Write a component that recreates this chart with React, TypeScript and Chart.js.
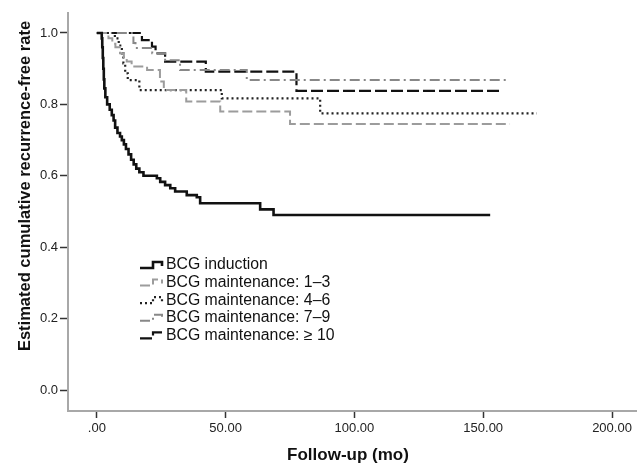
import React, { useEffect, useRef } from 'react';
import { Chart, registerables } from 'chart.js';

Chart.register(...registerables);

const seriesLabels = [
  'BCG induction',
  'BCG maintenance: 1–3',
  'BCG maintenance: 4–6',
  'BCG maintenance: 7–9',
  'BCG maintenance: ≥ 10',
];

const xAxisTitle = 'Follow-up (mo)';
const yAxisTitle = 'Estimated cumulative recurrence-free rate';

// Kaplan–Meier step points: time (mo) and estimated rate after each step
const inductionTime = [0, 1.9, 2.1, 2.3, 2.5, 2.7, 2.9, 3.3, 4, 5, 5.8, 6.5, 7.1, 8, 9, 9.7, 10.5, 11.3, 12.3, 13.3, 14.3, 15.3, 16.5, 18.1, 23.3, 24.6, 26.5, 28.5, 30.4, 34.9, 38.8, 40.1, 63.4, 68.6, 152.7];
const inductionRate = [1, 0.985, 0.96, 0.93, 0.9, 0.87, 0.845, 0.82, 0.8, 0.785, 0.77, 0.755, 0.735, 0.72, 0.71, 0.7, 0.688, 0.675, 0.66, 0.645, 0.632, 0.62, 0.61, 0.6, 0.593, 0.583, 0.574, 0.565, 0.556, 0.546, 0.54, 0.523, 0.506, 0.49, 0.49];

const m13Time = [0, 4.5, 6, 7.2, 9, 10.5, 11.6, 13.5, 19.5, 24.5, 26, 34.7, 47.9, 75, 160.4];
const m13Rate = [1, 0.985, 0.97, 0.96, 0.943, 0.93, 0.92, 0.906, 0.896, 0.864, 0.84, 0.808, 0.78, 0.745, 0.745];

const m46Time = [0, 7, 8.5, 9.7, 10.3, 11, 12, 16.5, 48.5, 86.7, 170.8];
const m46Rate = [1, 0.985, 0.965, 0.943, 0.915, 0.887, 0.868, 0.84, 0.817, 0.775, 0.775];

const m79Time = [0, 14.2, 15, 21.5, 26.5, 32.3, 58.2, 159.2];
const m79Rate = [1, 0.972, 0.958, 0.943, 0.924, 0.896, 0.868, 0.868];

const m10Time = [0, 17.5, 21.4, 22.8, 26.5, 42.3, 77.5, 156.6];
const m10Rate = [1, 0.98, 0.962, 0.943, 0.92, 0.892, 0.838, 0.838];

const xTickValues = [0, 50, 100, 150, 200];
const xTickLabels = ['.00', '50.00', '100.00', '150.00', '200.00'];
const yTickValues = [0, 0.2, 0.4, 0.6, 0.8, 1.0];
const yTickLabels = ['0.0', '0.2', '0.4', '0.6', '0.8', '1.0'];

const FONT = '"Liberation Sans", Arial, sans-serif';

const toPoints = (t: number[], r: number[]) => t.map((x, i) => ({ x, y: r[i] }));

const legendPlugin = {
  id: 'kmLegend',
  afterDatasetsDraw(chart: any) {
    const ctx = chart.ctx;
    const x0 = 140;
    const y0 = 265;
    const rowH = 17.6;
    ctx.save();
    chart.data.datasets.forEach((ds: any, i: number) => {
      const y = y0 + i * rowH;
      ctx.beginPath();
      ctx.strokeStyle = ds.borderColor;
      ctx.lineWidth = ds.borderWidth;
      ctx.setLineDash(ds.borderDash || []);
      ctx.moveTo(x0, y + 3);
      ctx.lineTo(x0 + 13, y + 3);
      ctx.lineTo(x0 + 13, y - 3);
      ctx.lineTo(x0 + 22, y - 3);
      ctx.lineTo(x0 + 22, y + 1);
      ctx.stroke();
      ctx.setLineDash([]);
      ctx.fillStyle = '#111';
      ctx.font = `15.8px ${FONT}`;
      ctx.textBaseline = 'middle';
      ctx.textAlign = 'left';
      ctx.fillText(ds.label, x0 + 26, y);
    });
    ctx.restore();
  },
};

const axisTitlePlugin = {
  id: 'axisTitles',
  afterDraw(chart: any) {
    const ctx = chart.ctx;
    ctx.save();
    ctx.fillStyle = '#111';
    ctx.textAlign = 'center';
    ctx.textBaseline = 'middle';
    ctx.font = `bold 17px ${FONT}`;
    ctx.fillText(xAxisTitle, 348, 455);
    ctx.translate(25, 186);
    ctx.rotate(-Math.PI / 2);
    ctx.font = `bold 16.5px ${FONT}`;
    ctx.fillText(yAxisTitle, 0, 0);
    ctx.restore();
  },
};

export default function App() {
  const ref = useRef<HTMLCanvasElement | null>(null);
  useEffect(() => {
    if (!ref.current) return;
    const chart = new Chart(ref.current, {
      type: 'line',
      data: {
        datasets: [
          { label: seriesLabels[0], data: toPoints(inductionTime, inductionRate), borderColor: '#111', borderWidth: 2.6, borderDash: [] },
          { label: seriesLabels[1], data: toPoints(m13Time, m13Rate), borderColor: '#9c9c9c', borderWidth: 2, borderDash: [10, 4] },
          { label: seriesLabels[2], data: toPoints(m46Time, m46Rate), borderColor: '#222', borderWidth: 2.2, borderDash: [2, 3] },
          { label: seriesLabels[3], data: toPoints(m79Time, m79Rate), borderColor: '#888888', borderWidth: 2, borderDash: [10, 4, 2, 4] },
          { label: seriesLabels[4], data: toPoints(m10Time, m10Rate), borderColor: '#111', borderWidth: 2.2, borderDash: [12, 4] },
        ].map((d) => ({ ...d, stepped: 'before' as const, pointRadius: 0, fill: false, tension: 0 })),
      },
      options: {
        animation: false,
        responsive: false,
        layout: { padding: { top: 13, right: 0, left: 0, bottom: 0 } },
        plugins: { legend: { display: false }, tooltip: { enabled: false } },
        scales: {
          x: {
            type: 'linear',
            min: -11.2,
            max: 209.7,
            afterBuildTicks: (s: any) => { s.ticks = xTickValues.map((v) => ({ value: v })); },
            afterFit: (s: any) => { s.height = 54; },
            ticks: {
              callback: (v: any) => xTickLabels[xTickValues.indexOf(Number(v))],
              font: { size: 13, family: FONT },
              color: '#222',
              padding: 3,
              maxRotation: 0,
            },
            grid: { drawOnChartArea: false, tickLength: 7, tickColor: '#333', tickWidth: 1.5 },
            border: { color: '#a8a8a8', width: 2 },
          },
          y: {
            type: 'linear',
            min: -0.0588,
            max: 1.056,
            afterBuildTicks: (s: any) => { s.ticks = yTickValues.map((v) => ({ value: v })); },
            afterFit: (s: any) => { s.width = 68; },
            ticks: {
              callback: (v: any) => yTickLabels[yTickValues.findIndex((t) => Math.abs(t - Number(v)) < 1e-6)],
              font: { size: 13, family: FONT },
              color: '#222',
              padding: 2,
            },
            grid: { drawOnChartArea: false, tickLength: 8, tickColor: '#333', tickWidth: 1.5 },
            border: { color: '#a8a8a8', width: 2 },
          },
        },
      },
      plugins: [legendPlugin, axisTitlePlugin],
    });
    return () => chart.destroy();
  }, []);
  return (
    <div style={{ position: 'fixed', left: 0, top: 0, width: 637, height: 465, background: '#fff' }}>
      <canvas ref={ref} width={637} height={465} style={{ display: 'block', width: 637, height: 465 }} />
    </div>
  );
}
